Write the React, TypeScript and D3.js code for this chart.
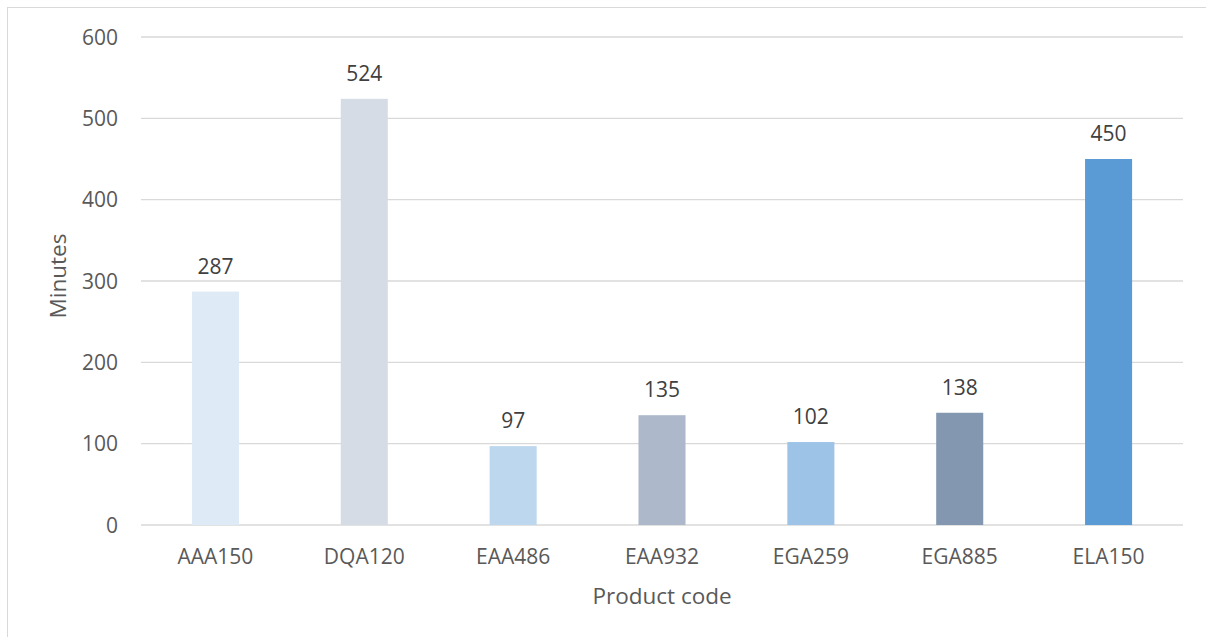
import React from "react";
import * as d3 from "d3";

const categories = ["AAA150", "DQA120", "EAA486", "EAA932", "EGA259", "EGA885", "ELA150"];
const values = [287, 524, 97, 135, 102, 138, 450];
const barColors = ["#DEEBF7", "#D6DCE5", "#BDD7EE", "#ADB9CA", "#9DC3E6", "#8497B0", "#5B9BD5"];
const yTicks = [0, 100, 200, 300, 400, 500, 600];
const xTitle = "Product code";
const yTitle = "Minutes";

const W = 1206;
const H = 637;
const left = 141;
const right = 1183;
const top = 37;
const bottom = 525;
const FONT = "'Open Sans', 'Noto Sans', sans-serif";

export default function App() {
  const x = d3.scaleBand<string>().domain(categories).range([left, right]).paddingInner(0.684).paddingOuter(0.342);
  const y = d3.scaleLinear().domain([0, 600]).range([bottom, top]);
  return (
    <svg width={W} height={H} style={{ position: "absolute", left: 0, top: 0, background: "#fff" }}>
      <rect x={7.5} y={7.5} width={W + 10} height={H + 10} fill="#fff" stroke="#D9D9D9" strokeWidth={1} />
      {yTicks.map((t) => (
        <g key={t}>
          <line x1={left} x2={right} y1={y(t)} y2={y(t)} stroke="#D9D9D9" strokeWidth={1.3} />
          <text x={118} y={y(t) + 7.5} textAnchor="end" fontFamily={FONT} fontSize={21} fill="#595959">
            {t}
          </text>
        </g>
      ))}
      {categories.map((c, i) => (
        <g key={c}>
          <rect x={x(c)} y={y(values[i])} width={x.bandwidth()} height={y(0) - y(values[i])} fill={barColors[i]} />
          <text x={(x(c) as number) + x.bandwidth() / 2} y={y(values[i]) - 18} textAnchor="middle" fontFamily={FONT} fontSize={21} fill="#404040">
            {values[i]}
          </text>
          <text x={(x(c) as number) + x.bandwidth() / 2} y={564} textAnchor="middle" fontFamily={FONT} fontSize={21} fill="#595959">
            {c}
          </text>
        </g>
      ))}
      <text x={(left + right) / 2} y={604} textAnchor="middle" fontFamily={FONT} fontSize={22.5} fill="#595959">
        {xTitle}
      </text>
      <text transform={`translate(66, ${(top + bottom) / 2 - 5}) rotate(-90)`} textAnchor="middle" fontFamily={FONT} fontSize={22.5} fill="#595959">
        {yTitle}
      </text>
    </svg>
  );
}
